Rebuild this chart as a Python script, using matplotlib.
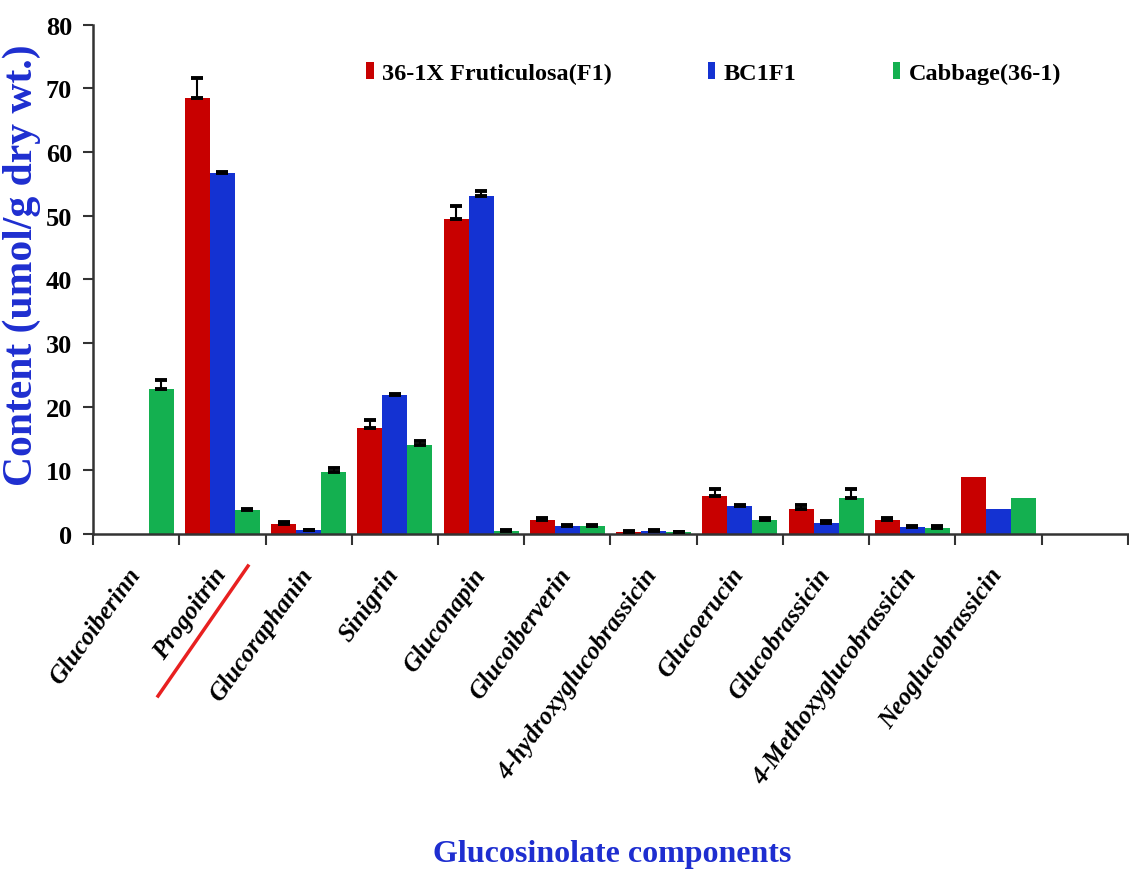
import numpy as np
import matplotlib
matplotlib.use("Agg")
import matplotlib.pyplot as plt
import matplotlib.transforms as mtransforms
from matplotlib.lines import Line2D

plt.rcParams['font.family'] = ['Liberation Serif', 'DejaVu Serif']

components = ['Glucoiberinn', 'Progoitrin', 'Glucoraphanin', 'Sinigrin', 'Gluconapin',
              'Glucoiberverin', '4-hydroxyglucobrassicin', 'Glucoerucin', 'Glucobrassicin',
              '4-Methoxyglucobrassicin', 'Neoglucobrassicin', '']

f1_mean = [0, 68.5, 1.6, 16.7, 49.5, 2.25, 0.37, 5.9, 4.0, 2.25, 8.9, 0]
f1_err = [0, 3.2, 0.25, 1.2, 2.0, 0.3, 0.15, 1.2, 0.55, 0.25, 0, 0]
bc_mean = [0, 56.7, 0.6, 21.9, 53.1, 1.3, 0.45, 4.35, 1.8, 1.05, 4.0, 0]
bc_err = [0, 0.1, 0.05, 0.15, 0.8, 0.1, 0.15, 0.2, 0.2, 0.15, 0, 0]
cab_mean = [22.8, 3.7, 9.8, 14.0, 0.4, 1.3, 0.3, 2.25, 5.6, 1.0, 5.6, 0]
cab_err = [1.4, 0.25, 0.6, 0.6, 0.2, 0.1, 0.05, 0.25, 1.5, 0.3, 0, 0]

series = [
    ('36-1X Fruticulosa(F1)', f1_mean, f1_err, '#C80000'),
    ('BC1F1', bc_mean, bc_err, '#1432D2'),
    ('Cabbage(36-1)', cab_mean, cab_err, '#14B050'),
]

fig = plt.figure(figsize=(11.29, 8.78), dpi=100)
ax = fig.add_axes([0.0824, 0.3907, 0.9166, 0.58])

x = np.arange(len(components))
width = 0.29
for i, (name, mean, err, color) in enumerate(series):
    pos = x + (i - 1) * width
    mean = np.array(mean)
    err = np.array(err)
    ax.bar(pos, mean, width=width, color=color, label=name, zorder=2)
    m = err > 0
    ax.errorbar(pos[m], mean[m], yerr=[np.zeros(m.sum()), err[m]], fmt='none',
                ecolor='black', elinewidth=1.5, capsize=4, capthick=2.8, zorder=3)

ax.set_xlim(-0.5, len(components) - 0.5)
ax.set_ylim(0, 80)
ax.set_yticks(range(0, 81, 10))

ax.set_xticks(x)
ax.set_xticks(np.arange(-0.5, len(components)), minor=True)
ax.tick_params(axis='x', which='major', length=0, pad=21)
ax.tick_params(axis='x', which='minor', length=8, width=1.5, direction='out', color='#333333')
ax.tick_params(axis='y', length=7, width=1.5, color='#333333', labelsize=19, pad=8)
for lbl in ax.get_yticklabels():
    lbl.set_fontweight('bold')

# slanted category names, nudged left so they end under each group
ax.set_xticklabels(components, rotation=54, ha='right', va='top', rotation_mode='anchor',
                   fontsize=18, fontweight='bold', fontstyle='italic')
shift = mtransforms.ScaledTranslation(-10 / 100, 0, fig.dpi_scale_trans)
for tick in ax.xaxis.get_major_ticks():
    tick.label1.set_transform(tick.label1.get_transform() + shift)

for s in ['top', 'right']:
    ax.spines[s].set_visible(False)
for s in ['left', 'bottom']:
    ax.spines[s].set_linewidth(1.8)
    ax.spines[s].set_color('#333333')

ax.set_ylabel('Content (umol/g dry wt.)', fontsize=30, fontweight='bold', color='#1E2ED0')
ax.yaxis.set_label_coords(-0.05, 0.53)
fig.text(0.542, 1 - 862 / 878, 'Glucosinolate components', ha='center', va='baseline',
         fontsize=23, fontweight='bold', color='#1E2ED0')

ax.legend(loc='upper left', bbox_to_anchor=(0.243, 0.969), ncol=3, frameon=False,
          handlelength=0.3, handleheight=0.7, handletextpad=0.35, columnspacing=3.95,
          prop={'size': 17.5, 'weight': 'bold'})

# red stroke under the Progoitrin label
fig.add_artist(Line2D([158 / 1129, 248 / 1129], [1 - 697 / 878, 1 - 567 / 878],
                      color='#E82020', linewidth=2.5))

fig.savefig('out.png', dpi=100)
